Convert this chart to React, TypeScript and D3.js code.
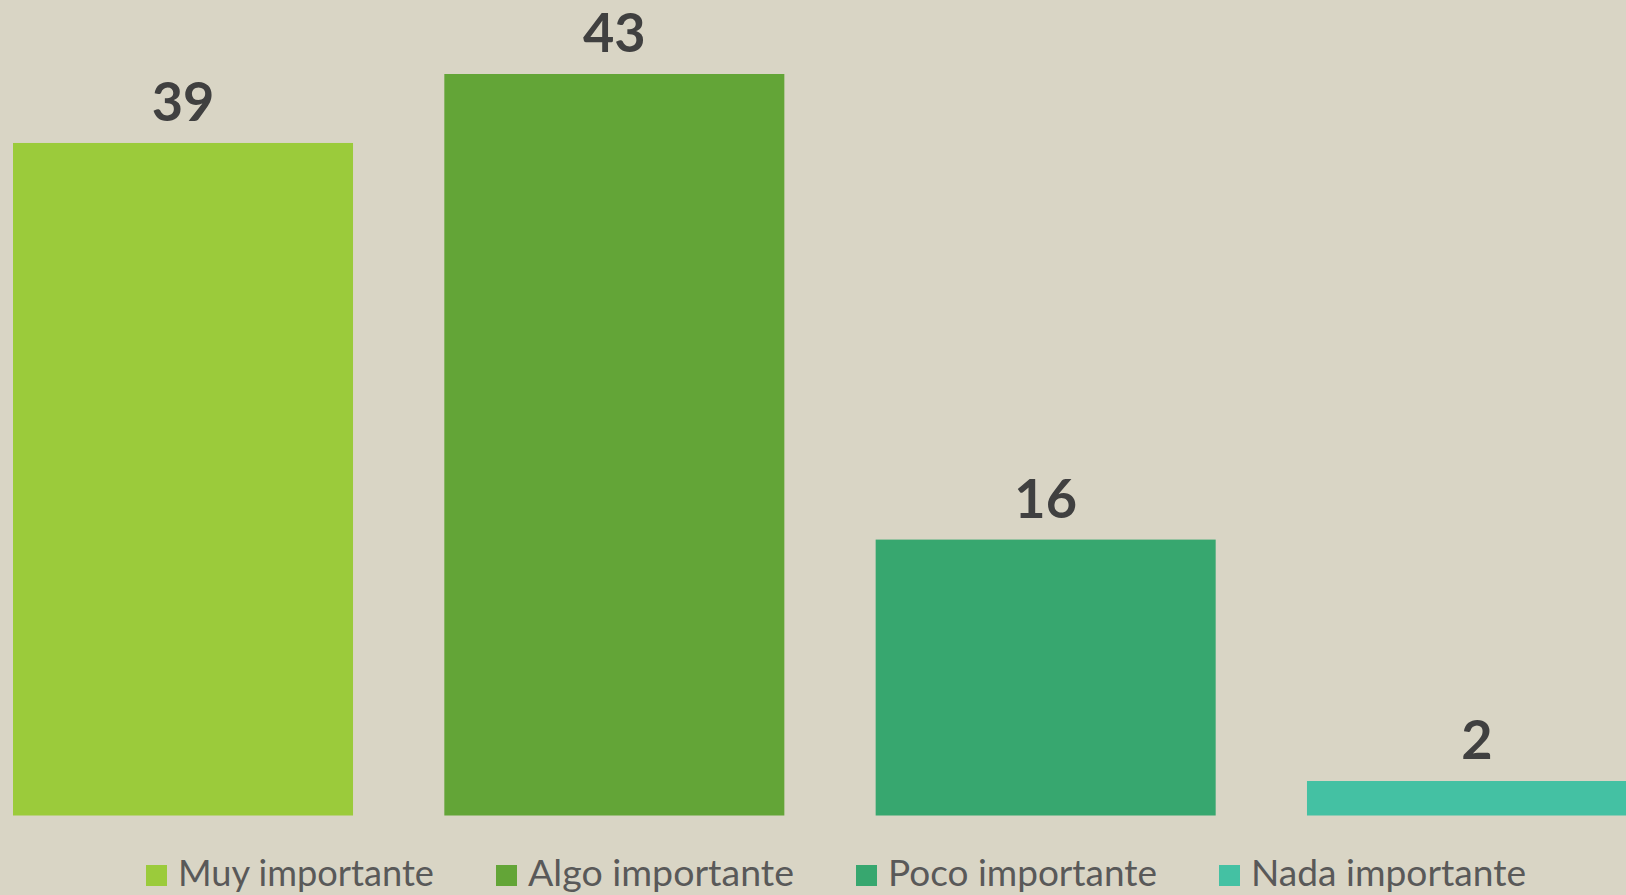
import React from "react";
import * as d3 from "d3";

const categories = ["Muy importante", "Algo importante", "Poco importante", "Nada importante"];
const values = [39, 43, 16, 2];
const colors = ["#9BCB3B", "#63A537", "#37A76F", "#44C1A3"];
// approximate rendered widths of legend labels (layout)
const legendTextWidths = [256, 266, 269, 275];

const W = 1626;
const H = 895;
const BG = "#D9D5C5";

export default function App() {
  const x = d3
    .scaleBand<string>()
    .domain(categories)
    .range([13, 1647])
    .paddingInner(0.2117)
    .paddingOuter(0);
  const y = d3.scaleLinear().domain([0, 43]).range([815.5, 74]);

  // legend layout
  const sq = 21;
  const gapSq = 11;
  const gapItem = 62;
  let cx = 146;
  const legendItems = categories.map((c, i) => {
    const item = { c, i, x: cx };
    cx += sq + gapSq + legendTextWidths[i] + gapItem;
    return item;
  });

  return (
    <svg
      width={W}
      height={H}
      style={{ position: "absolute", left: 0, top: 0, display: "block" }}
    >
      <rect x={0} y={0} width={W} height={H} fill={BG} />
      {categories.map((c, i) => (
        <g key={c}>
          <rect
            x={x(c)}
            y={y(values[i])}
            width={x.bandwidth()}
            height={y(0) - y(values[i])}
            fill={colors[i]}
          />
          <text
            x={(x(c) as number) + x.bandwidth() / 2}
            y={y(values[i]) - 22}
            textAnchor="middle"
            fontFamily="Lato, 'Open Sans', sans-serif"
            fontWeight={700}
            fontSize={54}
            fill="#404040"
          >
            {values[i]}
          </text>
        </g>
      ))}
      {legendItems.map((it) => (
        <g key={it.c}>
          <rect x={it.x} y={865} width={sq} height={sq} fill={colors[it.i]} />
          <text
            x={it.x + sq + gapSq}
            y={886}
            fontFamily="Lato, 'Open Sans', sans-serif"
            fontSize={37}
            fill="#595959"
            textLength={legendTextWidths[it.i]}
            lengthAdjust="spacingAndGlyphs"
          >
            {it.c}
          </text>
        </g>
      ))}
    </svg>
  );
}
